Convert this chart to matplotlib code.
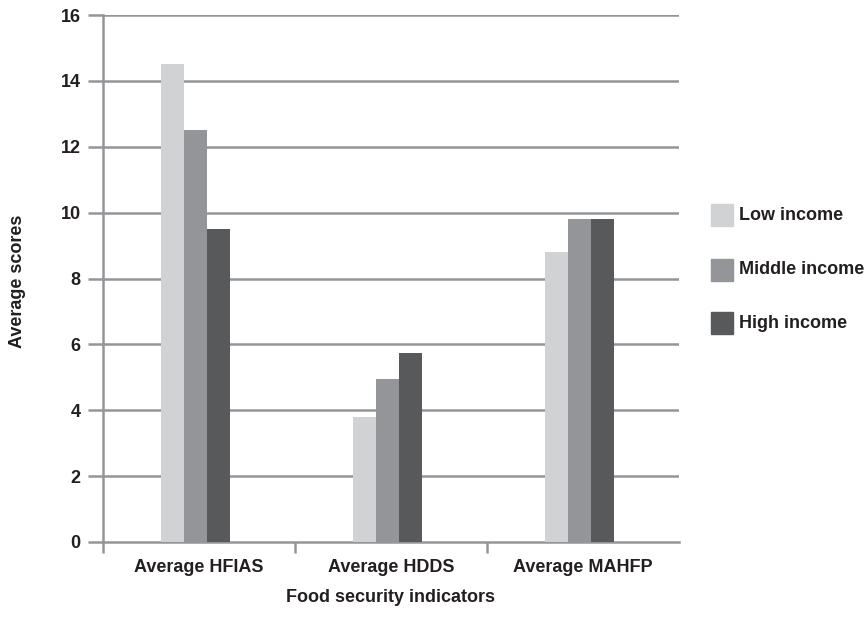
import matplotlib
matplotlib.use("Agg")
import matplotlib.pyplot as plt
import numpy as np

categories = ["Average HFIAS", "Average HDDS", "Average MAHFP"]
series_names = ["Low income", "Middle income", "High income"]
low_income = [14.5, 3.8, 8.8]
middle_income = [12.5, 4.95, 9.8]
high_income = [9.5, 5.75, 9.8]
y_ticks = [0, 2, 4, 6, 8, 10, 12, 14, 16]

colors = ["#d1d2d4", "#939598", "#58595b"]
grid_color = "#939598"
text_color = "#231f20"

plt.rcParams["font.family"] = ["Liberation Sans", "DejaVu Sans"]

fig = plt.figure(figsize=(8.65, 6.19), dpi=100)
ax = fig.add_axes([103 / 865, 1 - 542 / 619, (679 - 103) / 865, (542 - 15) / 619])

x = np.arange(len(categories))
bar_w = 0.12
for i, (vals, name) in enumerate(zip([low_income, middle_income, high_income], series_names)):
    ax.bar(x + (i - 1) * bar_w - 0.02, vals, width=bar_w, color=colors[i], label=name,
           zorder=3, linewidth=0)

ax.set_xlim(-0.5, len(categories) - 0.5)
ax.set_ylim(0, 16)

# horizontal gridlines
for t in y_ticks[1:]:
    ax.axhline(t, color=grid_color, linewidth=1.8, zorder=1)

for side in ["top", "right"]:
    ax.spines[side].set_visible(False)
for side in ["left", "bottom"]:
    ax.spines[side].set_color(grid_color)
    ax.spines[side].set_linewidth(1.8)

ax.set_yticks(y_ticks)
ax.set_yticklabels([str(t) for t in y_ticks], fontsize=13, fontweight="bold", color=text_color)
ax.tick_params(axis="y", direction="out", length=11, width=1.8, color=grid_color, pad=5)

# category labels centered, tick marks at category boundaries
ax.set_xticks(x)
ax.set_xticklabels(categories, fontsize=13, fontweight="bold", color=text_color)
ax.tick_params(axis="x", length=0, pad=12)
ax.set_xticks(np.arange(len(categories)) - 0.5, minor=True)
ax.tick_params(axis="x", which="minor", direction="out", length=8, width=1.8, color=grid_color)

fig.text(391 / 865, 1 - 598 / 619, "Food security indicators", ha="center", va="center",
         fontsize=13, fontweight="bold", color=text_color)
fig.text(18 / 865, 1 - 281 / 619, "Average scores", ha="center", va="center",
         rotation=90, fontsize=13, fontweight="bold", color=text_color)

# legend drawn as squares with labels
legend_rows = [215, 270, 323]
for name, c, yy in zip(series_names, colors, legend_rows):
    fig.patches.append(plt.Rectangle((711 / 865, 1 - (yy + 11) / 619), 22 / 865, 22 / 619,
                                     transform=fig.transFigure, color=c, figure=fig))
    fig.text(739 / 865, 1 - yy / 619, name, ha="left", va="center",
             fontsize=13, fontweight="bold", color=text_color)

fig.savefig("out.png", dpi=100)
